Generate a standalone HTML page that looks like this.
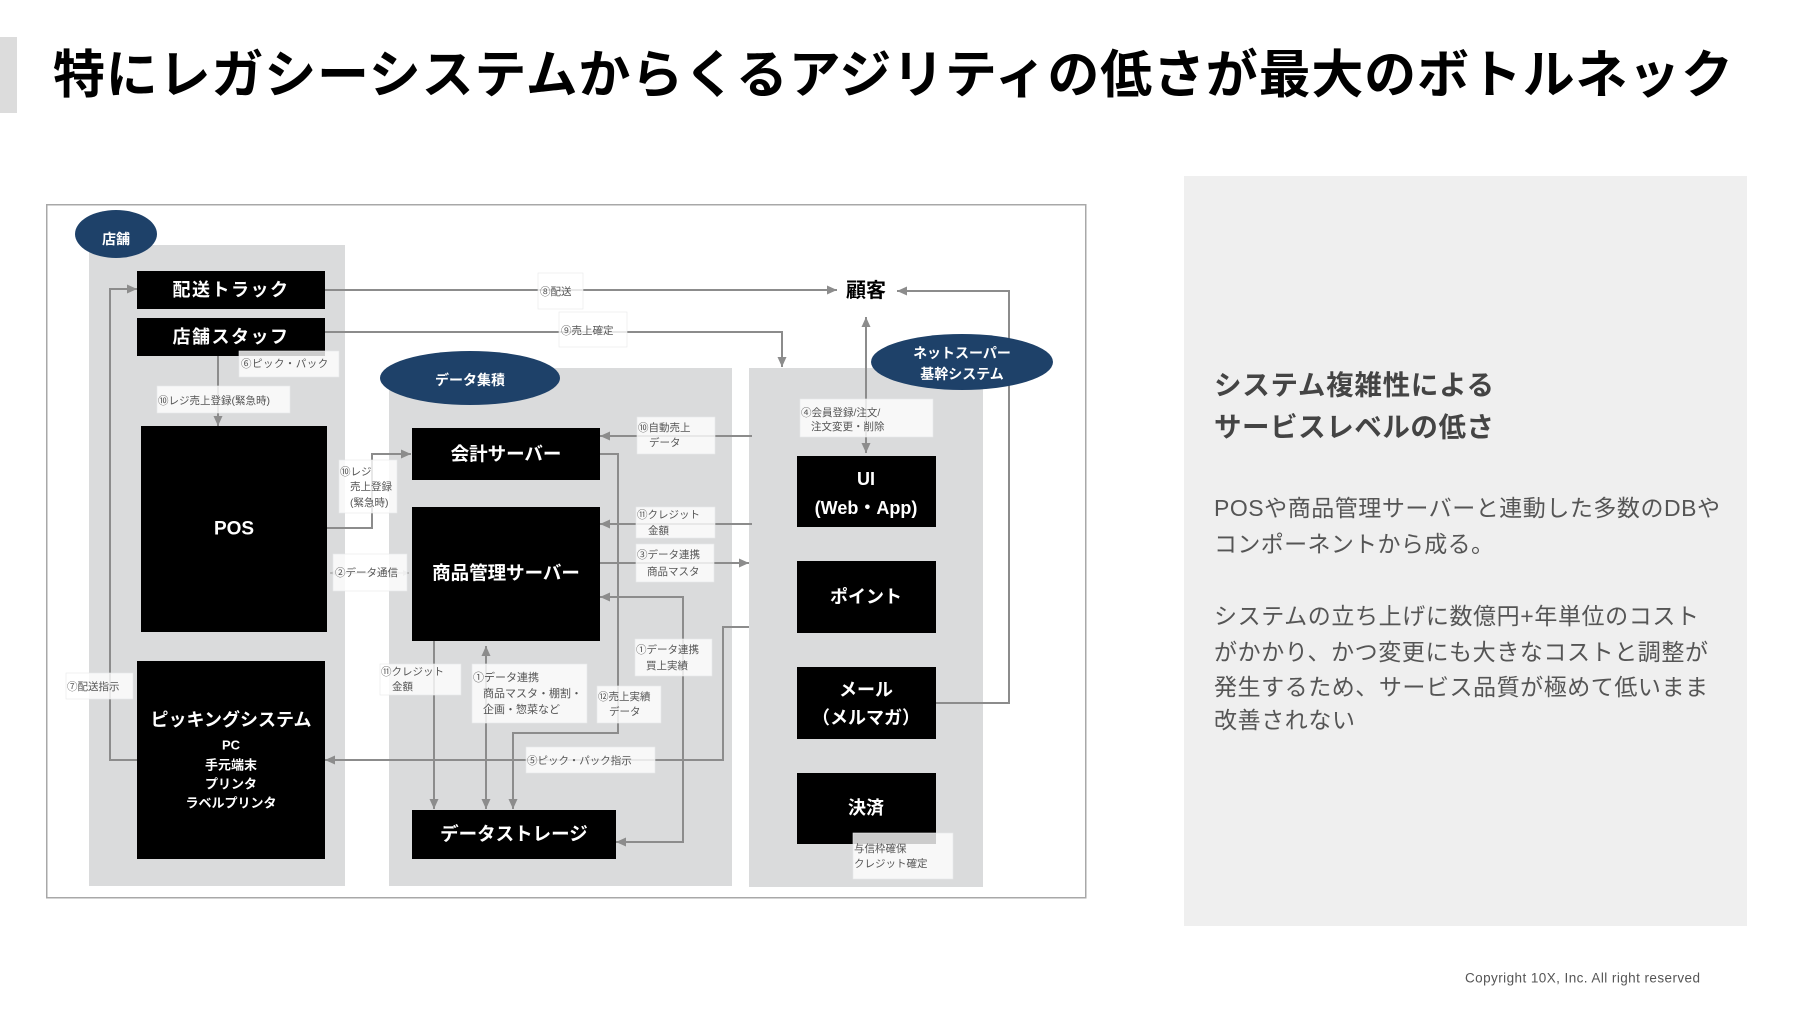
<!DOCTYPE html>
<html lang="ja">
<head>
<meta charset="utf-8">
<style>
  html,body{margin:0;padding:0;background:#fff;}
  body{width:1800px;height:1013px;overflow:hidden;position:relative;}
  svg{position:absolute;left:0;top:0;}
  text{font-family:"Liberation Sans","Noto Sans CJK JP",sans-serif;}
</style>
</head>
<body>
<svg width="1800" height="1013" viewBox="0 0 1800 1013" xmlns="http://www.w3.org/2000/svg">
  <defs>
    <marker id="ah" markerUnits="userSpaceOnUse" markerWidth="10" markerHeight="9" refX="10" refY="4.5" orient="auto-start-reverse">
      <path d="M0,0 L10,4.5 L0,9 z" fill="#8c8c8c"/>
    </marker>
    <marker id="ahs" markerUnits="userSpaceOnUse" markerWidth="6" markerHeight="6" refX="6" refY="3" orient="auto-start-reverse">
      <path d="M0,0 L6,3 L0,6 z" fill="#b0b0b0"/>
    </marker>
  </defs>

  <!-- Title -->
  <rect x="0" y="37" width="17" height="76" fill="#dcdcdc"/>
  <text x="53" y="76" font-size="52" font-weight="700" fill="#000" dominant-baseline="central" textLength="1680" lengthAdjust="spacing">特にレガシーシステムからくるアジリティの低さが最大のボトルネック</text>

  <!-- Right panel -->
  <rect x="1184" y="176" width="563" height="750" fill="#efefef"/>
  <g fill="#444" font-weight="700" font-size="27.5" dominant-baseline="central">
    <text x="1214" y="385" textLength="280" lengthAdjust="spacing">システム複雑性による</text>
    <text x="1214" y="427" textLength="280" lengthAdjust="spacing">サービスレベルの低さ</text>
  </g>
  <g fill="#555" font-size="23" dominant-baseline="central">
    <text x="1214" y="508" textLength="506" lengthAdjust="spacing">POSや商品管理サーバーと連動した多数のDBや</text>
    <text x="1214" y="544" textLength="280" lengthAdjust="spacing">コンポーネントから成る。</text>
    <text x="1214" y="616" textLength="485" lengthAdjust="spacing">システムの立ち上げに数億円+年単位のコスト</text>
    <text x="1214" y="652" textLength="494" lengthAdjust="spacing">がかかり、かつ変更にも大きなコストと調整が</text>
    <text x="1214" y="687" textLength="494" lengthAdjust="spacing">発生するため、サービス品質が極めて低いまま</text>
    <text x="1214" y="720" textLength="141" lengthAdjust="spacing">改善されない</text>
  </g>

  <!-- Copyright -->
  <text x="1465" y="978" font-size="13.5" fill="#555" dominant-baseline="central" textLength="235" lengthAdjust="spacing">Copyright 10X, Inc. All right reserved</text>

  <!-- Diagram frame -->
  <rect x="46.75" y="204.75" width="1039" height="693" fill="#fff" stroke="#a8a8a8" stroke-width="1.5"/>

  <!-- gray regions -->
  <rect x="89" y="245" width="256" height="641" fill="#dadbdc"/>
  <rect x="389" y="368" width="343" height="518" fill="#dadbdc"/>
  <rect x="749" y="368" width="234" height="519" fill="#dadbdc"/>

  <!-- connectors -->
  <g fill="none" stroke="#8c8c8c" stroke-width="2">
    <path d="M325,290 H837" marker-end="url(#ah)"/>
    <path d="M325,332 H782 V367" marker-end="url(#ah)"/>
    <path d="M866,317 V453" marker-start="url(#ah)" marker-end="url(#ah)"/>
    <path d="M936,703 H1009 V291 H897" marker-end="url(#ah)"/>
    <path d="M137,760 H110 V289 H137" marker-end="url(#ah)"/>
    <path d="M218,356 V426" marker-end="url(#ah)"/>
    <path d="M327,528 H372 V454 H411" marker-end="url(#ah)"/>
    <path d="M752,436 H600" marker-end="url(#ah)"/>
    <path d="M752,524 H600" marker-end="url(#ah)"/>
    <path d="M600,563 H749" marker-end="url(#ah)"/>
    <path d="M600,454 H618 V733 H513 V809" marker-end="url(#ah)"/>
    <path d="M600,597 H683 V842 H616" marker-start="url(#ah)" marker-end="url(#ah)"/>
    <path d="M749,627 H723 V760 H325" marker-end="url(#ah)"/>
    <path d="M434,641 V809" marker-end="url(#ah)"/>
    <path d="M486,646 V809" marker-start="url(#ah)" marker-end="url(#ah)"/>
  </g>
  <path d="M330,573 H409" fill="none" stroke="#b0b0b0" stroke-width="1.5" marker-start="url(#ahs)" marker-end="url(#ahs)"/>

  <!-- ellipses -->
  <ellipse cx="116" cy="234" rx="41" ry="24" fill="#1e4169"/>
  <ellipse cx="470" cy="378" rx="90" ry="27" fill="#1e4169"/>
  <ellipse cx="962" cy="362" rx="91" ry="28" fill="#1e4169"/>
  <g fill="#fff" font-weight="700" font-size="14" text-anchor="middle" dominant-baseline="central">
    <text x="116" y="239">店舗</text>
    <text x="470" y="380">データ集積</text>
    <text x="962" y="353">ネットスーパー</text>
    <text x="962" y="374">基幹システム</text>
  </g>

  <!-- black boxes -->
  <g fill="#000">
    <rect x="137" y="271" width="188" height="38"/>
    <rect x="137" y="318" width="188" height="38"/>
    <rect x="141" y="426" width="186" height="206"/>
    <rect x="137" y="661" width="188" height="198"/>
    <rect x="412" y="428" width="188" height="52"/>
    <rect x="412" y="507" width="188" height="134"/>
    <rect x="412" y="810" width="204" height="49"/>
    <rect x="797" y="456" width="139" height="71"/>
    <rect x="797" y="561" width="139" height="72"/>
    <rect x="797" y="667" width="139" height="72"/>
    <rect x="797" y="773" width="139" height="71"/>
  </g>
  <g fill="#fff" font-weight="700" text-anchor="middle" dominant-baseline="central">
    <text x="231" y="290" font-size="18" letter-spacing="1.5">配送トラック</text>
    <text x="231" y="337" font-size="18" letter-spacing="1.5">店舗スタッフ</text>
    <text x="234" y="529" font-size="19">POS</text>
    <text x="231" y="720" font-size="18">ピッキングシステム</text>
    <text x="231" y="745" font-size="13">PC</text>
    <text x="231" y="765" font-size="13">手元端末</text>
    <text x="231" y="784" font-size="13">プリンタ</text>
    <text x="231" y="803" font-size="13">ラベルプリンタ</text>
    <text x="506" y="454" font-size="18.5">会計サーバー</text>
    <text x="506" y="573" font-size="18.5">商品管理サーバー</text>
    <text x="514" y="834" font-size="18.5">データストレージ</text>
    <text x="866" y="479" font-size="18">UI</text>
    <text x="866" y="508" font-size="18">(Web・App)</text>
    <text x="866" y="597" font-size="18">ポイント</text>
    <text x="866" y="690" font-size="18">メール</text>
    <text x="866" y="718" font-size="18">（メルマガ）</text>
    <text x="866" y="808" font-size="18">決済</text>
  </g>
  <text x="866" y="291" font-size="20" font-weight="700" fill="#000" text-anchor="middle" dominant-baseline="central">顧客</text>

  <!-- labels -->
  <g fill="#ffffff" fill-opacity="0.8" stroke="#e6e8ea" stroke-width="0.6">
    <rect x="538" y="273" width="45" height="36"/>
    <rect x="559" y="312" width="68" height="35"/>
    <rect x="239" y="351" width="100" height="26"/>
    <rect x="157" y="386" width="133" height="27"/>
    <rect x="339" y="460" width="58" height="53"/>
    <rect x="637" y="417" width="78" height="37"/>
    <rect x="636" y="507" width="79" height="31"/>
    <rect x="636" y="544" width="78" height="38"/>
    <rect x="333" y="554" width="74" height="37"/>
    <rect x="635" y="639" width="77" height="37"/>
    <rect x="380" y="664" width="81" height="31"/>
    <rect x="472" y="664" width="115" height="59"/>
    <rect x="597" y="686" width="64" height="37"/>
    <rect x="526" y="747" width="129" height="26"/>
    <rect x="66" y="673" width="67" height="26"/>
    <rect x="800" y="399" width="133" height="38"/>
    <rect x="853" y="833" width="100" height="46"/>
  </g>
  <g fill="#555" font-size="10.5" dominant-baseline="central">
    <text x="540" y="292">⑧配送</text>
    <text x="561" y="331">⑨売上確定</text>
    <text x="241" y="364" letter-spacing="0.5">⑥ピック・パック</text>
    <text x="158" y="401">⑩レジ売上登録(緊急時)</text>
    <text x="340" y="472">⑩レジ</text>
    <text x="350" y="487">売上登録</text>
    <text x="350" y="503">(緊急時)</text>
    <text x="638" y="428">⑩自動売上</text>
    <text x="649" y="443">データ</text>
    <text x="637" y="515">⑪クレジット</text>
    <text x="648" y="531">金額</text>
    <text x="637" y="555">③データ連携</text>
    <text x="647" y="572">商品マスタ</text>
    <text x="335" y="573">②データ通信</text>
    <text x="636" y="650">①データ連携</text>
    <text x="646" y="666">買上実績</text>
    <text x="381" y="672">⑪クレジット</text>
    <text x="392" y="687">金額</text>
    <text x="473" y="678" font-size="11">①データ連携</text>
    <text x="483" y="694" font-size="11">商品マスタ・棚割・</text>
    <text x="483" y="710" font-size="11">企画・惣菜など</text>
    <text x="598" y="697">⑫売上実績</text>
    <text x="609" y="712">データ</text>
    <text x="527" y="761">⑤ピック・パック指示</text>
    <text x="67" y="687">⑦配送指示</text>
    <text x="801" y="413">④会員登録/注文/</text>
    <text x="811" y="427">注文変更・削除</text>
    <text x="854" y="849">与信枠確保</text>
    <text x="854" y="864">クレジット確定</text>
  </g>
</svg>
</body>
</html>
